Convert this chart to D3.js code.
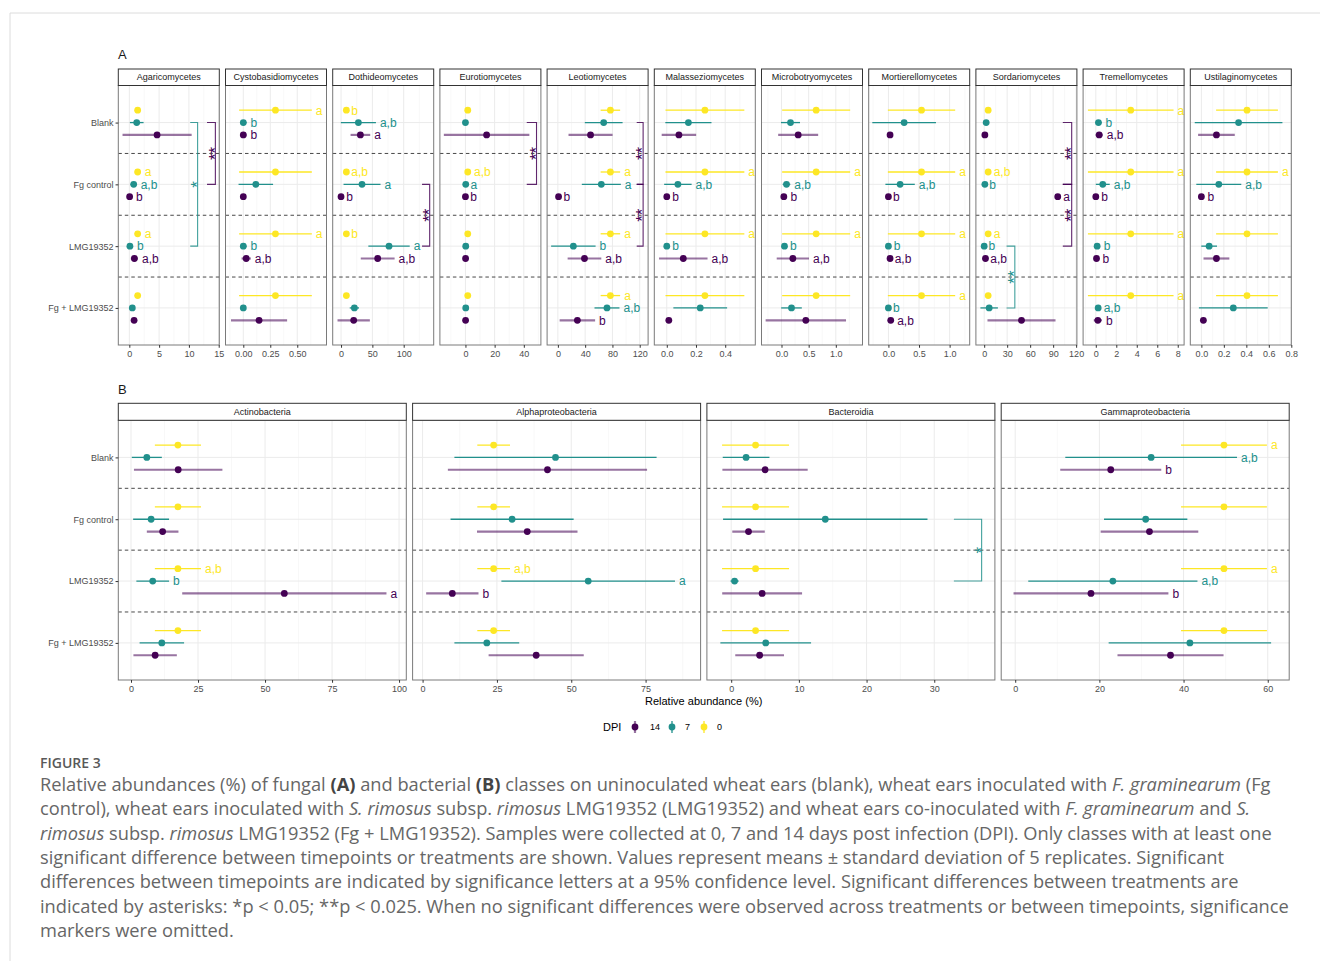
<!DOCTYPE html>
<html>
<head>
<meta charset="utf-8">
<script src="https://cdn.jsdelivr.net/npm/d3@7"></script>
<style>
  body { margin: 0; background: #fff; }
  svg { display: block; }
</style>
</head>
<body>
<svg id="fig" width="1320" height="961"></svg>
<script>
// ---------- shared factors ----------
const treatments = ["Blank", "Fg control", "LMG19352", "Fg + LMG19352"];
const dpiLevels = ["14", "7", "0"];
const dpiColors = ["#440154", "#21908C", "#FDE725"];

// ---------- fungal classes (panel A) ----------
const fungalClasses = ["Agaricomycetes", "Cystobasidiomycetes", "Dothideomycetes", "Eurotiomycetes",
  "Leotiomycetes", "Malasseziomycetes", "Microbotryomycetes", "Mortierellomycetes",
  "Sordariomycetes", "Tremellomycetes", "Ustilaginomycetes"];

// day 0 samples are shared by every treatment
const fungalMean0 = [1.4, 0.298, 8.5, 1.6, 77, 0.261, 0.638, 0.541, 5.2, 3.41, 0.406];
const fungalSd0   = [0.5, 0.337, 1.5, 1.5, 14.3, 0.27, 0.626, 0.55, 2.0, 4.18, 0.275];

// rows: class, columns: treatment
const fungalMean7 = [
  [1.24, 0.73, 0.1, 0.5], [0.0, 0.116, 0.0, 0.0], [27.7, 33.5, 76.6, 21.3], [0.0, 0.2, 0.2, 0.2],
  [67.2, 63.7, 22.7, 72], [0.148, 0.076, 0.0, 0.229], [0.166, 0.092, 0.055, 0.184],
  [0.257, 0.191, 0.0, 0.0], [2.6, 0.9, 0.0, 6.5], [0.26, 0.68, 0.13, 0.23], [0.331, 0.155, 0.069, 0.284]];
const fungalSd7 = [
  [1.15, 0.5, 0.5, 0.3], [0.03, 0.16, 0.03, 0.02], [28, 29.5, 33, 7.4], [0.3, 0.5, 0.3, 0.3],
  [27.7, 28.6, 32.6, 18.3], [0.158, 0.094, 0.01, 0.184], [0.175, 0.07, 0.03, 0.19],
  [0.52, 0.24, 0.02, 0.01], [1.0, 0.5, 0.5, 11.4], [0.3, 0.68, 0.25, 0.15], [0.39, 0.2, 0.07, 0.306]];
const fungalMean14 = [
  [4.66, 0.05, 0.85, 0.8], [0.0, 0.0, 0.027, 0.146], [30.9, 0.0, 58.5, 20.2], [14.5, 0.0, 0.1, 0.1],
  [47.9, 1.0, 39, 28.6], [0.083, 0.0, 0.113, 0.014], [0.307, 0.043, 0.209, 0.448],
  [0.027, 0.0, 0.027, 0.038], [0.9, 96, 1.7, 48.7], [0.33, 0.0, 0.07, 0.2], [0.134, 0.0, 0.134, 0.018]];
const fungalSd14 = [
  [5.8, 0.4, 0.6, 0.4], [0.03, 0.01, 0.043, 0.26], [15.7, 2, 27, 25.8], [29.3, 0.5, 0.3, 0.3],
  [32.3, 1.5, 24.7, 26], [0.118, 0.01, 0.166, 0.01], [0.368, 0.05, 0.297, 0.74],
  [0.02, 0.01, 0.01, 0.04], [0.5, 2, 1.0, 44.4], [0.35, 0.15, 0.2, 0.4], [0.163, 0.02, 0.115, 0.01]];

// significance letters between timepoints
const fungalLetters0 = [
  ["", "a", "a", ""], ["a", "", "a", ""], ["b", "a,b", "b", ""], ["", "a,b", "", ""],
  ["", "a", "a", "a"], ["", "a", "a", ""], ["", "a", "a", ""], ["", "a", "a", "a"],
  ["", "a,b", "a", ""], ["a", "a", "a", "a"], ["", "a", "", ""]];
const fungalLetters7 = [
  ["", "a,b", "b", ""], ["b", "", "b", ""], ["a,b", "a", "a", ""], ["", "a", "", ""],
  ["", "a", "b", "a,b"], ["", "a,b", "b", ""], ["", "a,b", "b", ""], ["", "a,b", "b", "b"],
  ["", "b", "b", ""], ["b", "a,b", "b", "a,b"], ["", "a,b", "", ""]];
const fungalLetters14 = [
  ["", "b", "a,b", ""], ["b", "", "a,b", ""], ["a", "b", "a,b", ""], ["", "b", "", ""],
  ["", "b", "a,b", "b"], ["", "b", "a,b", ""], ["", "b", "a,b", ""], ["", "b", "a,b", "a,b"],
  ["", "a", "a,b", ""], ["a,b", "b", "b", "b"], ["", "b", "", ""]];

// treatment comparisons: [class, DPI, from treatment, to treatment, bracket x, tick length, label]
const fungalBrackets = [
  [0, "7", 0, 2, 11.46, 1.24, "*"],
  [0, "14", 0, 1, 14.44, 1.4, "**"],
  [2, "14", 1, 2, 141.5, 12.2, "**"],
  [3, "14", 0, 1, 48.7, 6.7, "**"],
  [4, "14", 0, 1, 125, 9.4, "**"],
  [4, "14", 1, 2, 125, 9.4, "**"],
  [8, "14", 0, 1, 114.2, 11.6, "**"],
  [8, "14", 1, 2, 114.2, 11.6, "**"],
  [8, "7", 2, 3, 40, 10.8, "**"]];

const fungalDomains = [[-1.85, 15.1], [-0.165, 0.771], [-13.3, 147.9], [-17.5, 51.7], [-15.8, 132.3],
  [-0.0855, 0.606], [-0.368, 1.491], [-0.322, 1.328], [-10.8, 121], [-1.24, 8.62], [-0.0985, 0.8]];
const fungalTicks = [[0, 5, 10, 15], [0, 0.25, 0.5], [0, 50, 100], [0, 20, 40], [0, 40, 80, 120],
  [0, 0.2, 0.4], [0, 0.5, 1], [0, 0.5, 1], [0, 30, 60, 90, 120], [0, 2, 4, 6, 8], [0, 0.2, 0.4, 0.6, 0.8]];
const fungalTickFormats = ["d", ".2f", "d", "d", "d", ".1f", ".1f", ".1f", "d", "d", ".1f"];

// ---------- bacterial classes (panel B) ----------
const bacterialClasses = ["Actinobacteria", "Alphaproteobacteria", "Bacteroidia", "Gammaproteobacteria"];
const bacterialMean0 = [17.5, 23.9, 3.6, 49.6];
const bacterialSd0   = [8.6, 5.5, 4.95, 10.2];
const bacterialMean7 = [[5.9, 7.5, 8.1, 11.5], [44.7, 30.1, 55.7, 21.6], [2.2, 13.9, 0.5, 5.1], [32.3, 31.0, 23.2, 41.5]];
const bacterialSd7   = [[5.6, 6.7, 6.1, 8.3], [34, 20.7, 29.2, 10.9], [3.45, 15.1, 0.6, 6.7], [20.4, 9.9, 20.1, 19.3]];
const bacterialMean14 = [[17.6, 11.8, 57.2, 9.0], [42.0, 35.2, 10.0, 38.2], [5.0, 2.56, 4.57, 4.2], [22.7, 31.9, 18.0, 36.9]];
const bacterialSd14   = [[16.5, 5.9, 38.1, 8.1], [33.5, 16.9, 8.8, 16.0], [6.3, 2.4, 5.9, 3.6], [12.0, 11.6, 18.4, 12.6]];
const bacterialLetters0  = [["", "", "a,b", ""], ["", "", "a,b", ""], ["", "", "", ""], ["a", "", "a", ""]];
const bacterialLetters7  = [["", "", "b", ""], ["", "", "a", ""], ["", "", "", ""], ["a,b", "", "a,b", ""]];
const bacterialLetters14 = [["", "", "a", ""], ["", "", "b", ""], ["", "", "", ""], ["b", "", "b", ""]];
const bacterialBrackets = [[2, "7", 1, 2, 37.0, 4.1, "*"]];
const bacterialDomains = [[-4.74, 102.7], [-3.36, 93.5], [-3.59, 38.96], [-3.33, 65.1]];
const bacterialTicks = [[0, 25, 50, 75, 100], [0, 25, 50, 75], [0, 10, 20, 30], [0, 20, 40, 60]];
const bacterialTickFormats = ["d", "d", "d", "d"];

// ---------- drawing ----------
const svg = d3.select("#fig");
svg.append("rect").attr("width", 1320).attr("height", 961).attr("fill", "#fff");

// card frame
svg.append("path").attr("d", "M10,961 L10,13 L1320,13")
  .attr("fill", "none").attr("stroke", "#dcdcdc").attr("stroke-width", 1);

const FONT = "'Liberation Sans', Arial, sans-serif";
const colorOf = d => dpiColors[dpiLevels.indexOf(d)];
const dodgeOf = { "0": -1, "7": 0, "14": 1 };
const drawOrder = ["0", "7", "14"];

function buildConfig(classes, m0, s0, m7, s7, m14, s14, l0, l7, l14, brackets, domains, ticks, formats) {
  return {
    classes, brackets, domains, ticks, formats,
    mean: { "0": m0.map(v => treatments.map(() => v)), "7": m7, "14": m14 },
    sd: { "0": s0.map(v => treatments.map(() => v)), "7": s7, "14": s14 },
    letters: { "0": l0, "7": l7, "14": l14 }
  };
}

function drawRow(cfg, lay) {
  cfg.classes.forEach((name, ci) => {
    const left = lay.left0 + ci * lay.step, right = left + lay.width;
    const top = lay.stripTop + lay.stripH, bottom = lay.bottom;
    const dom = cfg.domains[ci];
    const x = d3.scaleLinear().domain(dom).range([left, right]);
    const y = d3.scalePoint().domain(treatments).range([top, bottom]).padding(0.6);
    const off = y.step() * 0.2;
    const g = svg.append("g");

    g.append("rect").attr("x", left).attr("y", top).attr("width", lay.width).attr("height", bottom - top)
      .attr("fill", "#fff");

    // grid
    const tk = cfg.ticks[ci];
    const dd = tk[1] - tk[0];
    const minor = [];
    for (let k = -1; k < tk.length; k++) {
      const mv = tk[0] + (k + 0.5) * dd;
      if (mv > dom[0] && mv < dom[1]) minor.push(mv);
    }
    g.selectAll(null).data(minor).join("line")
      .attr("x1", d => x(d)).attr("x2", d => x(d)).attr("y1", top).attr("y2", bottom)
      .attr("stroke", "#f3f3f3").attr("stroke-width", 0.6);
    g.selectAll(null).data(tk).join("line")
      .attr("x1", d => x(d)).attr("x2", d => x(d)).attr("y1", top).attr("y2", bottom)
      .attr("stroke", "#ebebeb").attr("stroke-width", 1);
    g.selectAll(null).data(treatments).join("line")
      .attr("x1", left).attr("x2", right).attr("y1", d => y(d)).attr("y2", d => y(d))
      .attr("stroke", "#ebebeb").attr("stroke-width", 1);

    // dashed separators between treatments
    const seps = treatments.slice(1).map((t, i) => (y(treatments[i]) + y(t)) / 2);
    g.selectAll(null).data(seps).join("line")
      .attr("x1", left).attr("x2", right).attr("y1", d => d).attr("y2", d => d)
      .attr("stroke", "#1a1a1a").attr("stroke-width", 0.8).attr("stroke-dasharray", "3.5,3");

    // point ranges
    drawOrder.forEach(dpi => {
      const col = colorOf(dpi);
      const rows = treatments.map((t, ti) => ({
        t, m: cfg.mean[dpi][ci][ti], s: cfg.sd[dpi][ci][ti], l: cfg.letters[dpi][ci][ti],
        yy: y(t) + dodgeOf[dpi] * off
      }));
      const purple = dpi === "14";
      g.selectAll(null).data(rows).join("line")
        .attr("x1", d => x(d.m - d.s)).attr("x2", d => x(d.m + d.s))
        .attr("y1", d => d.yy).attr("y2", d => d.yy)
        .attr("stroke", col).attr("stroke-width", purple ? 2.2 : 1.3)
        .attr("stroke-opacity", purple ? 0.55 : 1);
      g.selectAll(null).data(rows).join("circle")
        .attr("cx", d => x(d.m)).attr("cy", d => d.yy).attr("r", 3.4).attr("fill", col);
      g.selectAll(null).data(rows.filter(d => d.l)).join("text")
        .attr("x", d => x(d.m + d.s) + 4).attr("y", d => d.yy)
        .attr("dy", "0.36em").attr("font-family", FONT).attr("font-size", 12)
        .attr("fill", col).text(d => d.l);
    });

    // treatment comparison brackets
    cfg.brackets.filter(b => b[0] === ci).forEach(b => {
      const [, dpi, from, to, bx, tl, lab] = b;
      const col = colorOf(dpi);
      const y1 = y(treatments[from]), y2 = y(treatments[to]);
      const path = d3.path();
      path.moveTo(x(bx - tl), y1); path.lineTo(x(bx), y1);
      path.lineTo(x(bx), y2); path.lineTo(x(bx - tl), y2);
      g.append("path").attr("d", path.toString()).attr("fill", "none")
        .attr("stroke", col).attr("stroke-width", 1.1).attr("stroke-opacity", 0.85);
      // asterisks centred a few pixels inside the bracket, stacked vertically
      const cx = x(bx) - 5, cy = (y1 + y2) / 2;
      g.append("text").attr("transform", `translate(${cx},${cy}) rotate(-90)`)
        .attr("text-anchor", "middle").attr("dy", "0.6em")
        .attr("font-family", FONT).attr("font-size", 17).attr("fill", col).text(lab);
    });

    // panel border
    g.append("rect").attr("x", left).attr("y", top).attr("width", lay.width).attr("height", bottom - top)
      .attr("fill", "none").attr("stroke", "#7a7a7a").attr("stroke-width", 1);

    // strip
    g.append("rect").attr("x", left).attr("y", lay.stripTop).attr("width", lay.width).attr("height", lay.stripH)
      .attr("fill", "#fff").attr("stroke", "#333").attr("stroke-width", 1);
    g.append("text").attr("x", (left + right) / 2).attr("y", lay.stripTop + lay.stripH / 2)
      .attr("dy", "0.35em").attr("text-anchor", "middle")
      .attr("font-family", FONT).attr("font-size", 9).attr("fill", "#1a1a1a").text(name);

    // x axis
    const xa = g.append("g").attr("transform", `translate(0,${bottom})`)
      .call(d3.axisBottom(x).tickValues(tk).tickSize(2.75).tickPadding(2.5)
        .tickFormat(d3.format(cfg.formats[ci])));
    xa.select(".domain").remove();
    xa.selectAll(".tick line").attr("stroke", "#333");
    xa.selectAll(".tick text").attr("font-family", FONT).attr("font-size", 9).attr("fill", "#4d4d4d");

    // y axis on the first facet
    if (ci === 0) {
      const ya = g.append("g").attr("transform", `translate(${left},0)`)
        .call(d3.axisLeft(y).tickSize(2.75).tickPadding(2));
      ya.select(".domain").remove();
      ya.selectAll(".tick line").attr("stroke", "#333");
      ya.selectAll(".tick text").attr("font-family", FONT).attr("font-size", 9).attr("fill", "#4d4d4d");
    }
  });
}

const fungalCfg = buildConfig(fungalClasses, fungalMean0, fungalSd0, fungalMean7, fungalSd7,
  fungalMean14, fungalSd14, fungalLetters0, fungalLetters7, fungalLetters14,
  fungalBrackets, fungalDomains, fungalTicks, fungalTickFormats);
const bacterialCfg = buildConfig(bacterialClasses, bacterialMean0, bacterialSd0, bacterialMean7, bacterialSd7,
  bacterialMean14, bacterialSd14, bacterialLetters0, bacterialLetters7, bacterialLetters14,
  bacterialBrackets, bacterialDomains, bacterialTicks, bacterialTickFormats);

drawRow(fungalCfg, { left0: 118.3, step: 107.2, width: 101, stripTop: 69, stripH: 16.5, bottom: 345 });
drawRow(bacterialCfg, { left0: 118.3, step: 294.3, width: 288, stripTop: 403.3, stripH: 17, bottom: 680 });

// panel tags
svg.append("text").attr("x", 118).attr("y", 59).attr("font-family", FONT).attr("font-size", 13)
  .attr("fill", "#1a1a1a").text("A");
svg.append("text").attr("x", 118).attr("y", 394).attr("font-family", FONT).attr("font-size", 13)
  .attr("fill", "#1a1a1a").text("B");

// shared x title
svg.append("text").attr("x", 703.7).attr("y", 705).attr("text-anchor", "middle")
  .attr("font-family", FONT).attr("font-size", 11).attr("fill", "#000").text("Relative abundance (%)");

// legend
const legY = 727;
svg.append("text").attr("x", 603).attr("y", legY).attr("dy", "0.35em")
  .attr("font-family", FONT).attr("font-size", 11).attr("fill", "#000").text("DPI");
const legItems = dpiLevels.map((d, i) => ({ d, col: dpiColors[i], gx: [635, 672, 704][i], tx: [650, 685, 717][i] }));
legItems.forEach(it => {
  svg.append("line").attr("x1", it.gx).attr("x2", it.gx).attr("y1", legY - 6).attr("y2", legY + 6)
    .attr("stroke", it.col).attr("stroke-width", it.d === "14" ? 2.2 : 1.3)
    .attr("stroke-opacity", it.d === "14" ? 0.55 : 1);
  svg.append("circle").attr("cx", it.gx).attr("cy", legY).attr("r", 3.4).attr("fill", it.col);
  svg.append("text").attr("x", it.tx).attr("y", legY).attr("dy", "0.35em")
    .attr("font-family", FONT).attr("font-size", 9).attr("fill", "#000").text(it.d);
});

// caption
const CAP_FONT = "'Open Sans', 'Noto Sans', sans-serif";
svg.append("text").attr("x", 40).attr("y", 768).attr("font-family", CAP_FONT).attr("font-size", 14)
  .attr("font-weight", 600).attr("fill", "#595959").text("FIGURE 3");

const captionLines = [
  [["Relative abundances (%) of fungal ", ""], ["(A)", "b"], [" and bacterial ", ""], ["(B)", "b"],
   [" classes on uninoculated wheat ears (blank), wheat ears inoculated with ", ""], ["F. graminearum", "i"], [" (Fg", ""]],
  [["control), wheat ears inoculated with ", ""], ["S. rimosus", "i"], [" subsp. ", ""], ["rimosus", "i"],
   [" LMG19352 (LMG19352) and wheat ears co-inoculated with ", ""], ["F. graminearum", "i"], [" and ", ""], ["S.", "i"]],
  [["rimosus", "i"], [" subsp. ", ""], ["rimosus", "i"],
   [" LMG19352 (Fg + LMG19352). Samples were collected at 0, 7 and 14 days post infection (DPI). Only classes with at least one", ""]],
  [["significant difference between timepoints or treatments are shown. Values represent means ± standard deviation of 5 replicates. Significant", ""]],
  [["differences between timepoints are indicated by significance letters at a 95% confidence level. Significant differences between treatments are", ""]],
  [["indicated by asterisks: *p < 0.05; **p < 0.025. When no significant differences were observed across treatments or between timepoints, significance", ""]],
  [["markers were omitted.", ""]]
];
const capG = svg.append("g");
const capTexts = captionLines.map((segs, i) => {
  const t = capG.append("text").attr("x", 40).attr("y", 791 + i * 24.3)
    .attr("font-family", CAP_FONT).attr("font-size", 17).attr("fill", "#666");
  segs.forEach(([s, st]) => {
    const ts = t.append("tspan").text(s);
    if (st === "b") ts.attr("font-weight", 700).attr("fill", "#444");
    if (st === "i") ts.attr("font-style", "italic");
  });
  return t;
});
// fit the caption block to the text column width
const w6 = capTexts[5].node().getComputedTextLength();
const capSize = 17 * 1250 / w6;
capTexts.forEach(t => t.attr("font-size", capSize));
</script>
</body>
</html>
